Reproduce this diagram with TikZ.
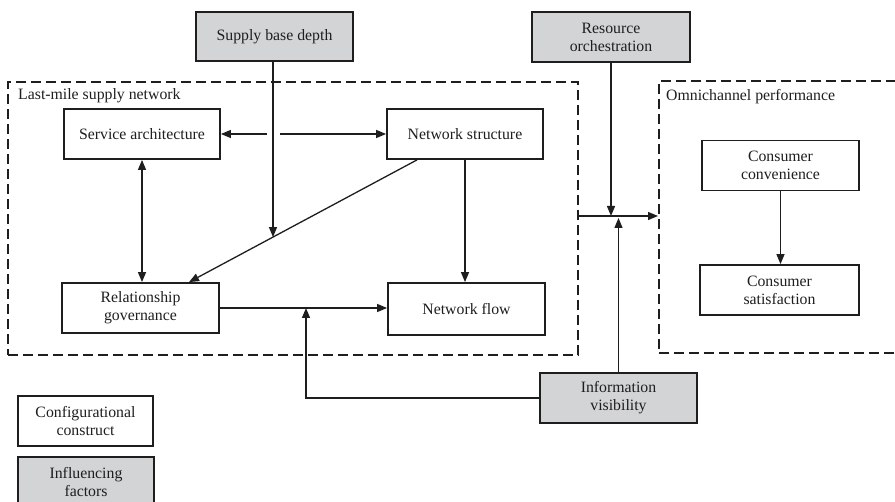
\documentclass[tikz,border=0pt]{standalone}
\usepackage{fontspec}
\setmainfont{Liberation Serif}
\usetikzlibrary{arrows.meta,calc}
\definecolor{boxgray}{RGB}{211,212,214}
\definecolor{ink}{RGB}{30,30,30}
\begin{document}
\begin{tikzpicture}[x=1pt,y=-1pt,
  box/.style={draw=ink, line width=1.8pt, minimum height=50pt, text=ink, align=center, inner sep=0pt, font=\fontsize{15.8}{18}\selectfont},
  fbox/.style={box, fill=boxgray},
  dashbox/.style={draw=ink, line width=2.2pt, dash pattern=on 10pt off 5pt, anchor=north west, inner sep=0pt},
  arr/.style={draw=ink, line width=1.3pt, -{Triangle[length=10pt,width=8pt]}},
  arrb/.style={draw=ink, line width=1.3pt, {Triangle[length=10pt,width=8pt]}-{Triangle[length=10pt,width=8pt]}},
  lbl/.style={anchor=west, text=ink, inner sep=0pt, font=\fontsize{15.8}{18}\selectfont}]
\useasboundingbox (0,0) rectangle (895,502);
\clip (0,0) rectangle (895,502);
% containers
\node[dashbox, minimum width=570pt, minimum height=273pt] (lm) at (7,81) {};
\node[dashbox, minimum width=260pt, minimum height=272pt] (om) at (658,80) {};
\node[lbl] (lml) at (18,96) {Last-mile supply network};
\node[lbl] (oml) at (666,97) {Omnichannel performance};
% boxes
\node[fbox, minimum width=157pt, minimum height=49pt] (sbd) at (274.5,36.5) {Supply base depth};
\node[fbox, minimum width=158pt] (ro) at (611,37) {Resource\\orchestration};
\node[box, minimum width=156pt] (sa) at (142,134) {Service architecture};
\node[box, minimum width=156pt] (ns) at (465,134) {Network structure};
\node[box, minimum width=157pt] (rg) at (140.5,308) {Relationship\\governance};
\node[box, minimum width=157pt, minimum height=52pt] (nf) at (466.5,309) {Network flow};
\node[box, minimum width=157pt] (cc) at (780.5,165.5) {Consumer\\convenience};
\node[box, minimum width=159pt] (cs) at (779.5,290) {Consumer\\satisfaction};
\node[fbox, minimum width=157pt] (iv) at (618.5,398) {Information\\visibility};
\node[box, minimum width=135pt] (cfg) at (85.5,421) {Configurational\\construct};
\node[fbox, minimum width=136pt] (inf) at (86,482) {Influencing\\factors};
% connectors
\coordinate (ha) at (267,134);
\coordinate (hb) at (280,134);
\draw[arr] (ha) -- (sa.east);
\draw[arr] (hb) -- (ns.west);
\coordinate (d1) at ([xshift=-48pt]ns.south);
\coordinate (d2) at ([xshift=48.5pt]rg.north);
\draw[arr] (d1) -- (d2);
\coordinate (sv1) at (273,0);
\coordinate (sv2) at (273,400);
\coordinate (dx) at (intersection of d1--d2 and sv1--sv2);
\draw[arr] (dx |- sbd.south) -- (dx);
\draw[arrb] (sa.south) -- (sa.south |- rg.north);
\draw[arr] (rg.east) -- (rg.east -| nf.west);
\coordinate (j1) at (306,308);
\draw[arr] (iv.west) -| (j1);
\coordinate (jn) at (611,216);
\draw[arr] (ro.south) -- (jn);
\draw[arr] (iv.north) -- ([yshift=-2pt]jn -| iv.north);
\draw[arr] (lm.east |- jn) -- (om.west |- jn);
\draw[arr] (ns.south) -- (ns.south |- nf.north);
\draw[arr] (cc.south) -- (cc.south |- cs.north);
\end{tikzpicture}
\end{document}
